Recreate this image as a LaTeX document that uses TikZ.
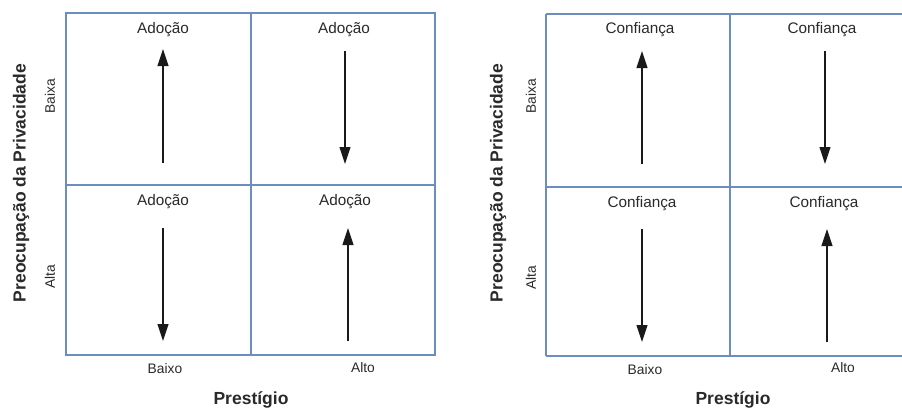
\documentclass[tikz,border=0pt]{standalone}
\usepackage{fontspec}
\setmainfont{Liberation Sans}
\usetikzlibrary{arrows.meta}
\definecolor{gridblue}{HTML}{6C8EBF}
\definecolor{arrowgray}{HTML}{1A1A1A}
\definecolor{textgray}{HTML}{2A2A2A}
\tikzset{
  gridline/.style={draw=gridblue, line width=1.4pt},
  cell/.style={font=\fontsize{15.3}{18}\selectfont, text=textgray, anchor=base, inner sep=0pt},
  tick/.style={font=\fontsize{13.8}{16}\selectfont, text=textgray, inner sep=0pt},
  axis/.style={font=\bfseries\fontsize{17.5}{20}\selectfont, text=textgray, inner sep=0pt},
  trend/.style={draw=arrowgray, line width=1.1pt, -{Triangle[length=17pt,width=11pt]}}
}
\begin{document}
\begin{tikzpicture}[x=1pt, y=-1pt]
\useasboundingbox (0,0) rectangle (902,408);
\fill[white] (0,0) rectangle (902,408);
\clip (0,0) rectangle (902,408);

% ---- left matrix: Adoção ----
\draw[gridline] (66,13) rectangle (435,355);
\draw[gridline] (251,13) -- (251,355);
\draw[gridline] (66,185) -- (435,185);

\node[cell] (a11) at (163,33) {Adoção};
\node[cell] (a12) at (344,33) {Adoção};
\node[cell] (a21) at (163,205) {Adoção};
\node[cell] (a22) at (345,205) {Adoção};

\coordinate (a11t) at (163,163); \coordinate (a11h) at (163,49);
\coordinate (a12t) at (345,51);  \coordinate (a12h) at (345,164);
\coordinate (a21t) at (163,228); \coordinate (a21h) at (163,341);
\coordinate (a22t) at (348,341); \coordinate (a22h) at (348,228);
\draw[trend] (a11t) -- (a11h);
\draw[trend] (a12t) -- (a12h);
\draw[trend] (a21t) -- (a21h);
\draw[trend] (a22t) -- (a22h);

\node[tick, anchor=base] (lbx) at (165,373) {Baixo};
\node[tick, anchor=base] (lal) at (363,372) {Alto};
\node[axis, anchor=base] (lpx) at (251,404) {Prestígio};
\node[tick, rotate=90] (lba) at (50,96) {Baixa};
\node[tick, rotate=90] (lat) at (50,277) {Alta};
\node[axis, rotate=90] (lpy) at (21,183) {Preocupação da Privacidade};

% ---- right matrix: Confiança ----
\draw[gridline] (546,14) -- (914,14);
\draw[gridline] (546,356) -- (914,356);
\draw[gridline] (546,14) -- (546,356);
\draw[gridline] (730,14) -- (730,356);
\draw[gridline] (546,187) -- (914,187);

\node[cell] (c11) at (640,33) {Confiança};
\node[cell] (c12) at (822,33) {Confiança};
\node[cell] (c21) at (642,207) {Confiança};
\node[cell] (c22) at (824,207) {Confiança};

\coordinate (c11t) at (642,164); \coordinate (c11h) at (642,51);
\coordinate (c12t) at (825,51);  \coordinate (c12h) at (825,164);
\coordinate (c21t) at (642,229); \coordinate (c21h) at (642,342);
\coordinate (c22t) at (827,342); \coordinate (c22h) at (827,229);
\draw[trend] (c11t) -- (c11h);
\draw[trend] (c12t) -- (c12h);
\draw[trend] (c21t) -- (c21h);
\draw[trend] (c22t) -- (c22h);

\node[tick, anchor=base] (rbx) at (645,374) {Baixo};
\node[tick, anchor=base] (ral) at (843,372) {Alto};
\node[axis, anchor=base] (rpx) at (733,404) {Prestígio};
\node[tick, rotate=90] (rba) at (531,96) {Baixa};
\node[tick, rotate=90] (rat) at (531,278) {Alta};
\node[axis, rotate=90] (rpy) at (498,183) {Preocupação da Privacidade};
\end{tikzpicture}
\end{document}
